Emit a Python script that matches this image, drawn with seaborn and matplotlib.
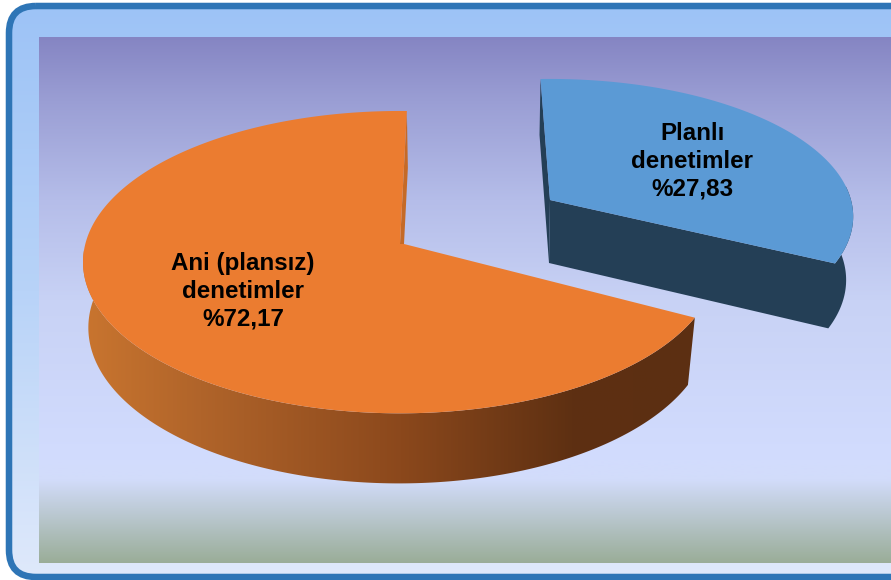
import numpy as np
import matplotlib
matplotlib.use("Agg")
import matplotlib.pyplot as plt
from matplotlib.colors import to_rgb
from matplotlib.patches import FancyBboxPatch, Polygon
import seaborn as sns

# ---- data ----
slice_names = ["Ani (plansız)\ndenetimler", "Planlı\ndenetimler"]
slice_shares = [72.17, 27.83]
slice_label_text = ["%72,17", "%27,83"]
top_colors = ["#eb7c30", "#5b9ad5"]
wall_colors = ["#c56a27", "#243f56"]

# ---- style of the drawn 3D view ----
view_gain = [0.9375, 1.181]        # apparent angle stretch of the 3D rendering
start_angle = [88.6, -26.3]
apex = [(400, 244), (550, 200)]
radii = [(314.7, 149.0), (301.0, 135.6)]
tilt = 0.12
rim_shift = [(-1, 65), (-1, 63)]
rim_scale = (0.98, 1.03)

sns.set_theme(style="white")
plt.rcParams["font.family"] = ["Liberation Sans", "DejaVu Sans"]

fig = plt.figure(figsize=(8.91, 5.80), dpi=100)
ax = fig.add_axes([0, 0, 1, 1])
ax.set_axis_off()


def gradient(stops, colors, n=512):
    pos = np.linspace(stops[0], stops[-1], n)
    rgb = np.array([to_rgb(c) for c in colors])
    return np.stack([np.interp(pos, stops, rgb[:, i]) for i in range(3)], axis=-1)


def project(theta_deg, centre, r, scale=(1, 1)):
    t = np.radians(theta_deg)
    w = 1 + tilt * np.sin(t)
    return (centre[0] + scale[0] * r[0] * np.cos(t) / w,
            centre[1] - scale[1] * r[1] * np.sin(t) / w)


# outer frame (its right side runs past the picture)
frame = FancyBboxPatch((9, 6), 960, 571, boxstyle="round,pad=0,rounding_size=27",
                       fc="none", ec="#2e75b6", lw=4.7, zorder=3)
panel = ax.imshow(gradient([0, 0.5, 1], ["#9dc3f6", "#b8d3f8", "#dfe9fb"])[:, None, :],
                  extent=(9, 969, 577, 6), aspect="auto", zorder=1)
ax.add_patch(frame)
panel.set_clip_path(frame)

# inner plot background
ax.imshow(gradient([37, 100, 200, 300, 460, 480, 563],
                   ["#8585c3", "#9a9ed4", "#b5bde9", "#c8d2f5", "#d2dcfe", "#d2dcfa", "#9aad98"])[:, None, :],
          extent=(39, 891, 563, 37), aspect="auto", zorder=2)

# sweeps come from the shares
sweeps = [s / sum(slice_shares) * 360 * g for s, g in zip(slice_shares, view_gain)]

# ---- orange slice ----
th0 = np.linspace(start_angle[0], start_angle[0] + sweeps[0], 300)
rim_c0 = (apex[0][0] + rim_shift[0][0], apex[0][1] + rim_shift[0][1])
vis = np.linspace(172, start_angle[0] + sweeps[0], 300)
ux, uy = project(vis, apex[0], radii[0])
lx, ly = project(vis, rim_c0, radii[0], rim_scale)
wall = Polygon(np.r_[np.c_[ux, uy], np.c_[lx, ly][::-1]], closed=True,
               transform=ax.transData, fc="none", ec="none")
ax.add_patch(wall)
img = ax.imshow(gradient([83, 200, 400, 570, 692],
                         ["#c9752f", "#b0642a", "#8b481c", "#5e3012", "#5c2f12"])[None, :, :],
                extent=(83, 695, 490, 250), aspect="auto", zorder=4)
img.set_clip_path(wall)
# inner cut wall
tx, ty = project(start_angle[0], apex[0], radii[0])
ax.fill([tx, tx + 1, apex[0][0] + 4, apex[0][0]], [ty, ty + 57, apex[0][1], apex[0][1]],
        color=wall_colors[0], lw=0, zorder=4)
x0, y0 = project(th0, apex[0], radii[0])
ax.fill(np.r_[apex[0][0], x0, apex[0][0] + 4], np.r_[apex[0][1], y0, apex[0][1]],
        color=top_colors[0], lw=0, zorder=5)

# ---- blue slice ----
end1 = start_angle[1] + sweeps[1]
rim_c1 = (apex[1][0] + rim_shift[1][0], apex[1][1] + rim_shift[1][1])
vis1 = np.linspace(start_angle[1], 6, 60)
ux, uy = project(vis1, apex[1], radii[1])
lx, ly = project(vis1, rim_c1, radii[1], rim_scale)
ax.fill(np.r_[apex[1][0], ux, lx[::-1], rim_c1[0]], np.r_[apex[1][1], uy, ly[::-1], rim_c1[1]],
        color=wall_colors[1], lw=0, zorder=4)
tx, ty = project(end1, apex[1], radii[1])
ax.fill([tx, tx - 1, rim_c1[0], apex[1][0]], [ty, ty + 56, rim_c1[1], apex[1][1]],
        color=wall_colors[1], lw=0, zorder=4)
th1 = np.linspace(start_angle[1], end1, 200)
x1, y1 = project(th1, apex[1], radii[1])
ax.fill(np.r_[apex[1][0], x1], np.r_[apex[1][1], y1], color=top_colors[1], lw=0, zorder=5)

# ---- labels ----
label_pos = [(243, 291), (692, 161)]
for name, pct, (lx_, ly_) in zip(slice_names, slice_label_text, label_pos):
    ax.text(lx_, ly_, f"{name}\n{pct}", ha="center", va="center", fontsize=17.4,
            fontweight="bold", color="black", linespacing=1.27, zorder=6)

ax.set_xlim(0, 891)
ax.set_ylim(580, 0)
fig.savefig("out.png", dpi=100, facecolor="white")
